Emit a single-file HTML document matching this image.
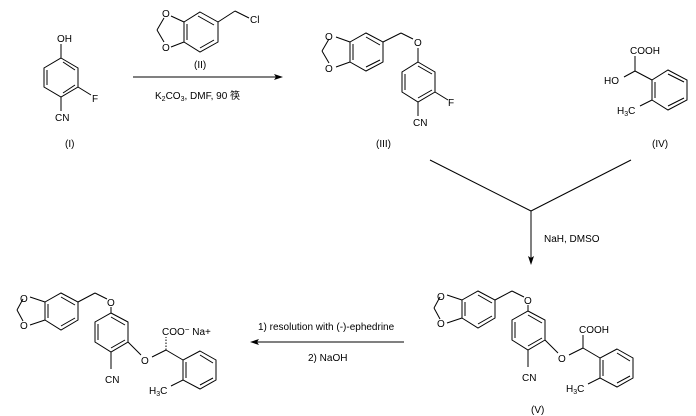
<!DOCTYPE html>
<html><head><meta charset="utf-8"><style>
html,body{margin:0;padding:0;background:#fff;}
svg{display:block;}
text{font-family:"Liberation Sans","Noto Sans CJK SC",sans-serif;font-size:10px;fill:#000;}
</style></head><body>
<svg width="696" height="416" viewBox="0 0 696 416" xmlns="http://www.w3.org/2000/svg">
<g stroke="#000" stroke-width="1" fill="none">
<!-- Compound I -->
<polygon points="61,58 78,68 78,87 61,97 44,87 44,68"/>
<line x1="47" y1="70" x2="47" y2="85"/><line x1="75" y1="70" x2="63" y2="62"/><line x1="75" y1="85" x2="63" y2="93"/>
<line x1="61" y1="58" x2="61" y2="44"/>
<line x1="78" y1="87" x2="91" y2="95"/>
<line x1="61" y1="97" x2="61" y2="111"/>
<!-- Compound II -->
<polygon points="200,12 218,22 218,42 200,52 184,42 184,22"/>
<line x1="187" y1="24" x2="187" y2="40"/><line x1="198" y1="16" x2="214" y2="25"/><line x1="214" y1="40" x2="200" y2="48"/>
<line x1="184" y1="22" x2="171" y2="16"/><line x1="184" y1="42" x2="171" y2="47"/>
<line x1="164" y1="18" x2="157" y2="30"/><line x1="157" y1="30" x2="164" y2="42"/>
<line x1="218" y1="22" x2="235" y2="11"/><line x1="235" y1="11" x2="249" y2="18"/>
<!-- arrow 1 -->
<line x1="133" y1="77" x2="278" y2="77"/>
<!-- Compound III -->
<polygon points="366,33 383,42 383,62 366,71 350,62 350,42"/>
<line x1="353" y1="44" x2="353" y2="60"/><line x1="366" y1="37" x2="380" y2="45"/><line x1="380" y1="60" x2="366" y2="67"/>
<line x1="350" y1="42" x2="336" y2="37"/><line x1="350" y1="62" x2="336" y2="67"/>
<line x1="329" y1="39" x2="322" y2="51"/><line x1="322" y1="51" x2="329" y2="63"/>
<line x1="383" y1="42" x2="401" y2="33"/><line x1="401" y1="33" x2="413" y2="39"/>
<line x1="418" y1="48" x2="418" y2="62"/>
<polygon points="418,62 435,72 435,92 418,102 402,92 402,72"/>
<line x1="405" y1="74" x2="405" y2="90"/><line x1="418" y1="66" x2="432" y2="74"/><line x1="432" y1="90" x2="418" y2="98"/>
<line x1="435" y1="92" x2="448" y2="100"/>
<line x1="418" y1="102" x2="418" y2="116"/>
<!-- Compound IV -->
<polygon points="668,70 687,80 687,100 668,110 652,100 652,80"/>
<line x1="655" y1="82" x2="655" y2="98"/><line x1="668" y1="74" x2="684" y2="82"/><line x1="684" y1="98" x2="668" y2="106"/>
<line x1="635" y1="71" x2="652" y2="80"/>
<line x1="635" y1="71" x2="635" y2="56"/>
<line x1="635" y1="71" x2="624" y2="77"/>
<line x1="652" y1="100" x2="640" y2="106"/>
<!-- converging -->
<line x1="430" y1="160" x2="531" y2="211"/><line x1="631" y1="160" x2="531" y2="211"/>
<line x1="531" y1="211" x2="531" y2="260"/>
<!-- arrow left -->
<line x1="256" y1="342" x2="404" y2="342"/>
</g>
<g fill="#000">
<polygon points="283,77 274,74 276,77 274,80"/>
<polygon points="531,265 528,256 531,258 534,256"/>
<polygon points="250,342 259,339 257,342 259,345"/>
</g>
<!-- shared structure for V and final -->
<defs></defs>
<g id="v" stroke="#000" stroke-width="1" fill="none">
<polygon points="478,291 495,300 495,318 478,328 462,318 462,300"/>
<line x1="465" y1="302" x2="465" y2="316"/><line x1="478" y1="295" x2="492" y2="303"/><line x1="492" y1="316" x2="478" y2="324"/>
<line x1="462" y1="300" x2="447" y2="295"/><line x1="462" y1="318" x2="447" y2="323"/>
<line x1="440" y1="297" x2="434" y2="308"/><line x1="434" y1="308" x2="440" y2="319"/>
<line x1="495" y1="300" x2="512" y2="291"/><line x1="512" y1="291" x2="524" y2="297"/>
<line x1="528" y1="305" x2="528" y2="311"/>
<polygon points="528,311 545,320 545,340 528,350 512,340 512,320"/>
<line x1="515" y1="322" x2="515" y2="338"/><line x1="528" y1="315" x2="542" y2="323"/><line x1="542" y1="338" x2="528" y2="346"/>
<line x1="545" y1="340" x2="558" y2="353"/>
<line x1="528" y1="350" x2="528" y2="367"/>
<line x1="569" y1="355" x2="583" y2="348"/>
<line x1="583" y1="348" x2="600" y2="358"/>
<polygon points="617,349 633,358 633,378 617,387 600,378 600,358"/>
<line x1="603" y1="360" x2="603" y2="376"/><line x1="617" y1="353" x2="630" y2="361"/><line x1="630" y1="376" x2="617" y2="383"/>
<line x1="600" y1="378" x2="588" y2="384"/>
</g>
<g stroke="#000" stroke-width="1" fill="none">
<line x1="583" y1="348" x2="583" y2="335"/>
</g>
<g transform="translate(-417,2)" stroke="#000" stroke-width="1" fill="none">
<polygon points="478,291 495,300 495,318 478,328 462,318 462,300"/>
<line x1="465" y1="302" x2="465" y2="316"/><line x1="478" y1="295" x2="492" y2="303"/><line x1="492" y1="316" x2="478" y2="324"/>
<line x1="462" y1="300" x2="447" y2="295"/><line x1="462" y1="318" x2="447" y2="323"/>
<line x1="440" y1="297" x2="434" y2="308"/><line x1="434" y1="308" x2="440" y2="319"/>
<line x1="495" y1="300" x2="512" y2="291"/><line x1="512" y1="291" x2="524" y2="297"/>
<line x1="528" y1="305" x2="528" y2="311"/>
<polygon points="528,311 545,320 545,340 528,350 512,340 512,320"/>
<line x1="515" y1="322" x2="515" y2="338"/><line x1="528" y1="315" x2="542" y2="323"/><line x1="542" y1="338" x2="528" y2="346"/>
<line x1="545" y1="340" x2="558" y2="353"/>
<line x1="528" y1="350" x2="528" y2="367"/>
<line x1="569" y1="355" x2="583" y2="348"/>
<line x1="583" y1="348" x2="600" y2="358"/>
<polygon points="617,349 633,358 633,378 617,387 600,378 600,358"/>
<line x1="603" y1="360" x2="603" y2="376"/><line x1="617" y1="353" x2="630" y2="361"/><line x1="630" y1="376" x2="617" y2="383"/>
<line x1="600" y1="378" x2="588" y2="384"/>
<line x1="583" y1="348" x2="583" y2="335" stroke-dasharray="1.5,1.5"/>
</g>
<!-- labels -->
<text x="57" y="42">OH</text>
<text x="92" y="102">F</text>
<text x="55" y="121">CN</text>
<text x="65" y="147">(I)</text>
<text x="162" y="17">O</text>
<text x="162" y="51">O</text>
<text x="250" y="23">Cl</text>
<text x="194" y="68">(II)</text>
<text x="155" y="99">K<tspan font-size="7" dy="2">2</tspan><tspan dy="-2">CO</tspan><tspan font-size="7" dy="2">3</tspan><tspan dy="-2">, DMF, 90 筷</tspan></text>
<text x="325" y="40">O</text>
<text x="325" y="72">O</text>
<text x="414" y="46">O</text>
<text x="448" y="106">F</text>
<text x="413" y="126">CN</text>
<text x="376" y="147">(III)</text>
<text x="630" y="54">COOH</text>
<text x="604" y="84">HO</text>
<text x="617" y="114">H<tspan font-size="7" dy="2">3</tspan><tspan dy="-2">C</tspan></text>
<text x="652" y="147">(IV)</text>
<text x="544" y="242">NaH, DMSO</text>
<text x="258" y="330">1) resolution with (-)-ephedrine</text>
<text x="308" y="361">2) NaOH</text>
<text x="437" y="300">O</text>
<text x="437" y="327">O</text>
<text x="524" y="304">O</text>
<text x="558" y="362">O</text>
<text x="579" y="333">COOH</text>
<text x="522" y="381">CN</text>
<text x="566" y="392">H<tspan font-size="7" dy="2">3</tspan><tspan dy="-2">C</tspan></text>
<text x="531" y="413">(V)</text>
<text x="20" y="302">O</text>
<text x="20" y="329">O</text>
<text x="107" y="306">O</text>
<text x="141" y="364">O</text>
<text x="162" y="335">COO<tspan font-size="8" dy="-3">−</tspan><tspan dy="3"> Na+</tspan></text>
<text x="105" y="383">CN</text>
<text x="149" y="394">H<tspan font-size="7" dy="2">3</tspan><tspan dy="-2">C</tspan></text>
</svg>
</body></html>
